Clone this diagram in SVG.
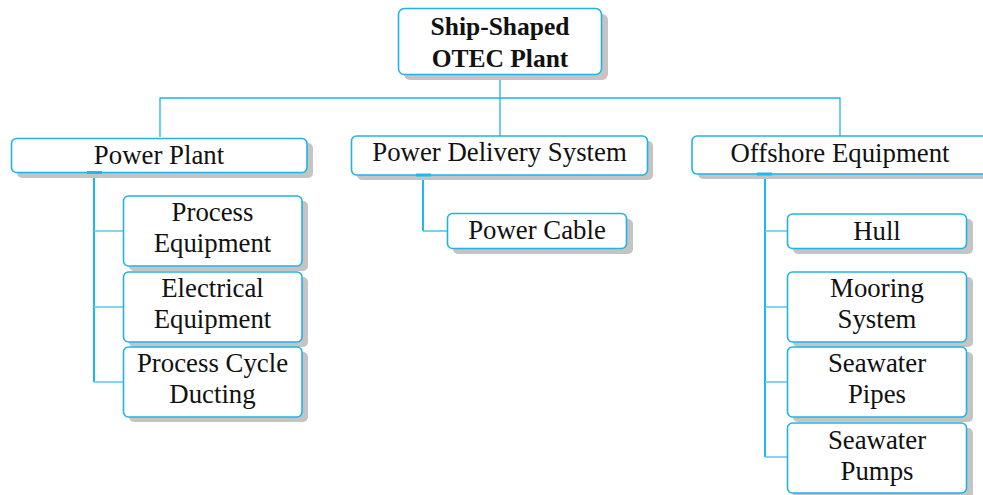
<svg xmlns="http://www.w3.org/2000/svg" width="983" height="495" viewBox="0 0 983 495">
  <style>
    .box { fill: #ffffff; stroke: #22b2e6; stroke-width: 1.6; }
    .shadow { fill: #c4c4c4; }
    .lbl { font-family: "Liberation Serif", "Times New Roman", serif; font-size: 26.8px; fill: #111111; text-anchor: middle; }
    .root { font-family: "Liberation Serif", "Times New Roman", serif; font-weight: bold; font-size: 25.5px; fill: #111111; text-anchor: middle; }
    .trunk { stroke: #22b2e6; stroke-width: 1.3; fill: none; }
    .stem { stroke: #1cb8f0; stroke-width: 2; fill: none; }
    .branch { stroke: #5cc6ee; stroke-width: 1.6; fill: none; }
    .tab { stroke: #1cb8f0; stroke-width: 3; }
  </style>
  <rect width="983" height="495" fill="#ffffff"/>

  <!-- connectors -->
  <g id="connectors">
    <path class="trunk" d="M500 75 V98 M160 137 V98 H840 V136 M500 98 V136"/>
    <path class="stem" d="M94 172 V382"/>
    <path class="branch" d="M94 231 H123 M94 307 H123 M94 382 H123"/>
    <path class="stem" d="M423 175 V231"/>
    <path class="branch" d="M423 231 H447"/>
    <path class="stem" d="M765 174 V457"/>
    <path class="branch" d="M765 231 H787 M765 307 H787 M765 382 H787 M765 457 H787"/>
  </g>

  <!-- root -->
  <g id="root">
    <rect class="shadow" x="404" y="14" width="204" height="66" rx="6"/>
    <rect class="box" x="398.5" y="8.5" width="203" height="66" rx="6" stroke-width="2"/>
    <text class="root" x="500" y="35">Ship-Shaped</text>
    <text class="root" x="500" y="67">OTEC Plant</text>
  </g>

  <!-- second level -->
  <g id="power-plant">
    <rect class="shadow" x="17" y="143" width="296" height="35" rx="5"/>
    <rect class="box" x="11.5" y="138.5" width="295.5" height="34" rx="5"/>
    <line class="tab" x1="87" y1="172.5" x2="102" y2="172.5"/>
    <text class="lbl" x="159" y="164">Power Plant</text>
  </g>
  <g id="power-delivery-system">
    <rect class="shadow" x="357" y="141" width="296" height="39" rx="5"/>
    <rect class="box" x="351.5" y="136" width="296" height="39" rx="5"/>
    <line class="tab" x1="416" y1="175" x2="431" y2="175"/>
    <text class="lbl" x="499.5" y="161">Power Delivery System</text>
  </g>
  <g id="offshore-equipment">
    <rect class="shadow" x="698" y="141" width="296" height="38" rx="5"/>
    <rect class="box" x="692" y="136" width="296" height="38" rx="5"/>
    <line class="tab" x1="757" y1="174" x2="772" y2="174"/>
    <text class="lbl" x="840" y="162">Offshore Equipment</text>
  </g>

  <!-- power plant children -->
  <g id="process-equipment">
    <rect class="shadow" x="129" y="201" width="179" height="70" rx="5"/>
    <rect class="box" x="123.5" y="196" width="178.5" height="70" rx="5"/>
    <text class="lbl" x="212.5" y="221">Process</text>
    <text class="lbl" x="212.5" y="252">Equipment</text>
  </g>
  <g id="electrical-equipment">
    <rect class="shadow" x="129" y="277" width="179" height="70" rx="5"/>
    <rect class="box" x="123.5" y="272" width="178.5" height="70" rx="5"/>
    <text class="lbl" x="212.5" y="297">Electrical</text>
    <text class="lbl" x="212.5" y="328">Equipment</text>
  </g>
  <g id="process-cycle-ducting">
    <rect class="shadow" x="129" y="352" width="179" height="70" rx="5"/>
    <rect class="box" x="123.5" y="347" width="178.5" height="70" rx="5"/>
    <text class="lbl" x="212.5" y="372">Process Cycle</text>
    <text class="lbl" x="212.5" y="403">Ducting</text>
  </g>

  <!-- power delivery child -->
  <g id="power-cable">
    <rect class="shadow" x="453" y="219" width="180" height="35" rx="5"/>
    <rect class="box" x="447.5" y="213.5" width="179" height="35" rx="5"/>
    <text class="lbl" x="537" y="239">Power Cable</text>
  </g>

  <!-- offshore children -->
  <g id="hull">
    <rect class="shadow" x="793" y="219" width="180" height="35" rx="5"/>
    <rect class="box" x="787.5" y="214" width="179" height="34.5" rx="5"/>
    <text class="lbl" x="877" y="239.5">Hull</text>
  </g>
  <g id="mooring-system">
    <rect class="shadow" x="793" y="277" width="180" height="70" rx="5"/>
    <rect class="box" x="787.5" y="272" width="179" height="70" rx="5"/>
    <text class="lbl" x="877" y="296.5">Mooring</text>
    <text class="lbl" x="877" y="327.5">System</text>
  </g>
  <g id="seawater-pipes">
    <rect class="shadow" x="793" y="352" width="180" height="70" rx="5"/>
    <rect class="box" x="787.5" y="347" width="179" height="70" rx="5"/>
    <text class="lbl" x="877" y="372">Seawater</text>
    <text class="lbl" x="877" y="403">Pipes</text>
  </g>
  <g id="seawater-pumps">
    <rect class="shadow" x="793" y="428" width="180" height="70" rx="5"/>
    <rect class="box" x="787.5" y="423" width="179" height="70" rx="5"/>
    <text class="lbl" x="877" y="448.5">Seawater</text>
    <text class="lbl" x="877" y="480">Pumps</text>
  </g>
</svg>
